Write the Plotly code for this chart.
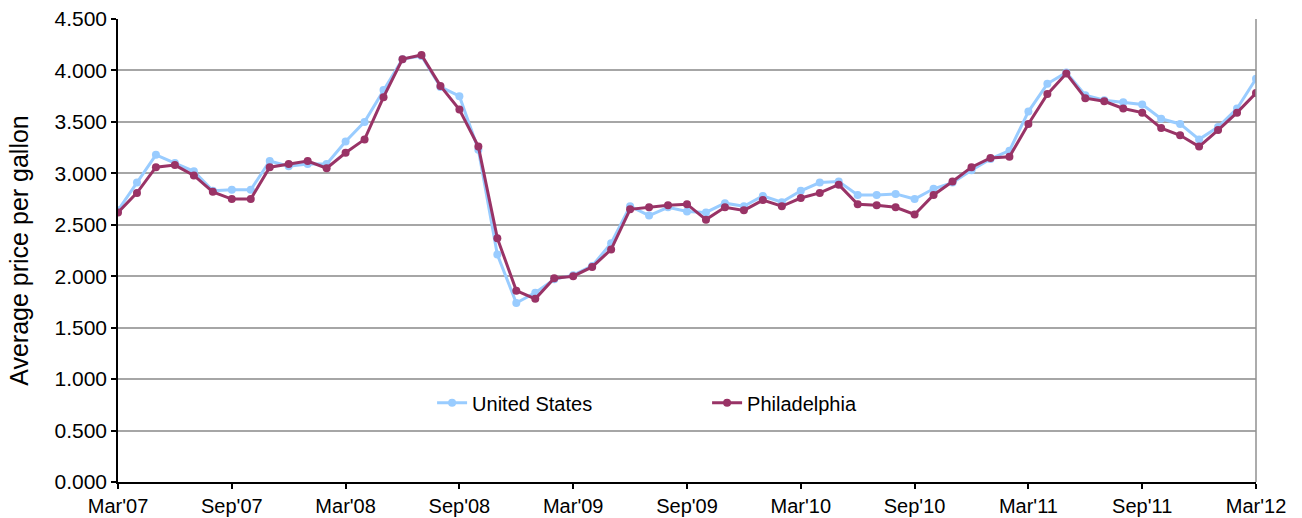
import plotly.graph_objects as go

# Monthly labels, Mar'07 through Mar'12
month_names = ["Jan", "Feb", "Mar", "Apr", "May", "Jun",
               "Jul", "Aug", "Sep", "Oct", "Nov", "Dec"]
months = []
year, m = 2007, 2
for _ in range(61):
    months.append(f"{month_names[m]}'{str(year)[2:]}")
    m += 1
    if m == 12:
        m = 0
        year += 1

# Average retail price per gallon (dollars)
us_price = [
    2.64, 2.91, 3.18, 3.10, 3.02, 2.83, 2.84, 2.84, 3.12, 3.07, 3.09, 3.09,
    3.31, 3.50, 3.81, 4.11, 4.14, 3.84, 3.75, 3.23, 2.21, 1.74, 1.84, 1.97,
    2.01, 2.10, 2.32, 2.68, 2.59, 2.67, 2.63, 2.62, 2.71, 2.68, 2.78, 2.72,
    2.83, 2.91, 2.92, 2.79, 2.79, 2.80, 2.75, 2.85, 2.91, 3.03, 3.14, 3.22,
    3.60, 3.87, 3.98, 3.76, 3.71, 3.69, 3.67, 3.53, 3.48, 3.33, 3.45, 3.63,
    3.92,
]
phl_price = [
    2.62, 2.81, 3.06, 3.08, 2.98, 2.82, 2.75, 2.75, 3.06, 3.09, 3.12, 3.05,
    3.20, 3.33, 3.74, 4.11, 4.15, 3.85, 3.62, 3.26, 2.37, 1.86, 1.78, 1.98,
    2.00, 2.09, 2.26, 2.65, 2.67, 2.69, 2.70, 2.55, 2.67, 2.64, 2.74, 2.68,
    2.76, 2.81, 2.89, 2.70, 2.69, 2.67, 2.60, 2.79, 2.92, 3.06, 3.15, 3.16,
    3.48, 3.77, 3.97, 3.73, 3.70, 3.63, 3.59, 3.44, 3.37, 3.26, 3.42, 3.59,
    3.78,
]

tick_labels = months[::6]
y_ticks = [0, 0.5, 1.0, 1.5, 2.0, 2.5, 3.0, 3.5, 4.0, 4.5]

font_family = "Liberation Sans, Arial, sans-serif"

fig = go.Figure()
fig.add_trace(go.Scatter(
    x=months, y=us_price, name="United States", mode="lines+markers",
    line=dict(color="#99CCFF", width=3),
    marker=dict(color="#99CCFF", size=8, symbol="circle"),
))
fig.add_trace(go.Scatter(
    x=months, y=phl_price, name="Philadelphia", mode="lines+markers",
    line=dict(color="#993366", width=3),
    marker=dict(color="#993366", size=8, symbol="circle"),
))

fig.update_layout(
    width=1302, height=518,
    margin=dict(l=118, r=46, t=19, b=36),
    paper_bgcolor="white", plot_bgcolor="white",
    font=dict(family=font_family, size=20, color="black"),
    showlegend=True,
    legend=dict(
        orientation="h", x=0.276, y=0.171, xanchor="left", yanchor="middle",
        font=dict(size=20), bgcolor="rgba(0,0,0,0)",
        entrywidth=230, entrywidthmode="pixels",
    ),
    xaxis=dict(
        type="category", categoryorder="array", categoryarray=months,
        range=[0, 60], tickmode="array", tickvals=tick_labels, ticktext=tick_labels,
        showgrid=False, showline=True, linecolor="black", linewidth=1.5,
        ticks="outside", ticklen=5, tickcolor="black", tickwidth=1.5,
        tickfont=dict(size=20), zeroline=False, automargin=False,
    ),
    yaxis=dict(
        range=[0, 4.5], tickmode="array", tickvals=y_ticks, tickformat=".3f",
        showgrid=True, gridcolor="#A6A6A6", gridwidth=1.5,
        showline=True, linecolor="black", linewidth=1.5,
        ticks="outside", ticklen=5, tickcolor="black", tickwidth=1.5,
        tickfont=dict(size=21), zeroline=False, automargin=False,
        title=dict(text="Average price per gallon", font=dict(size=25), standoff=19),
    ),
)

# Right-hand frame edge of the plot area
fig.add_shape(type="line", xref="paper", yref="paper", x0=1, x1=1, y0=0, y1=1,
              line=dict(color="#909090", width=1.5))

fig.write_html("out.html")
